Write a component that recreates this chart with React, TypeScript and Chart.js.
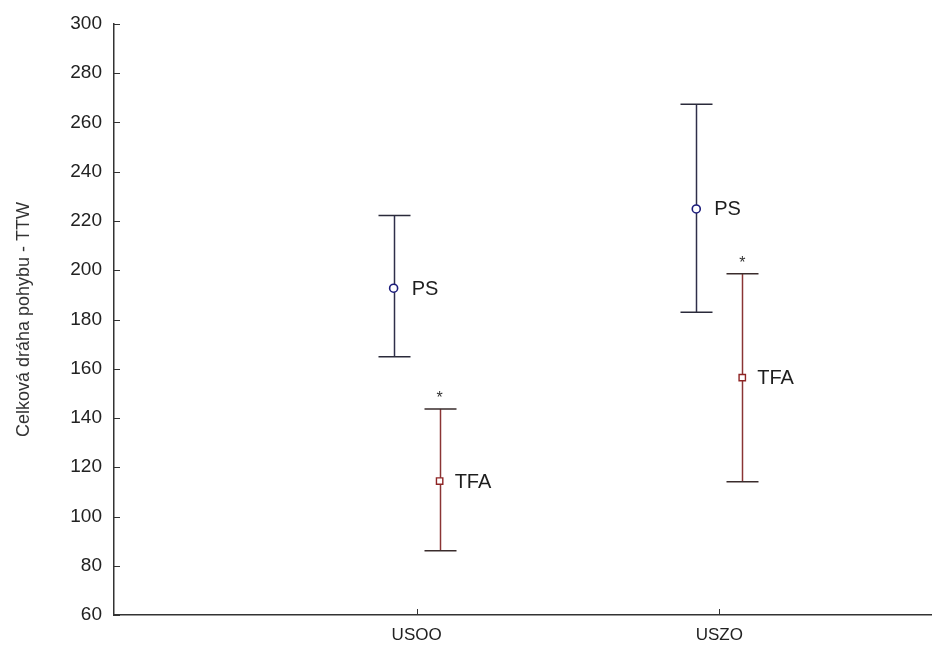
import React, { useEffect, useRef } from "react";
import { Chart, registerables } from "chart.js";

Chart.register(...registerables);

// ---- Data ----
const categories = ["USOO", "USZO"];
const yTickValues = [60, 80, 100, 120, 140, 160, 180, 200, 220, 240, 260, 280, 300];
const yTitle = "Celková dráha pohybu - TTW";

const psMean = [192.7, 224.9];
const psUpper = [222.2, 267.4];
const psLower = [164.9, 182.9];

const tfaMean = [114.4, 156.4];
const tfaUpper = [143.7, 198.6];
const tfaLower = [86.1, 114.1];
const tfaMarks = ["*", "*"];

const seriesNames = ["PS", "TFA"];

const OFFSET = 0.076;
const FONT = "Arial, 'Liberation Sans', sans-serif";

const errorBarPlugin = {
  id: "errorBars",
  beforeDatasetsDraw(chart: any) {
    const ctx = chart.ctx;
    const y = chart.scales.y;
    chart.data.datasets.forEach((ds: any, di: number) => {
      const meta = chart.getDatasetMeta(di);
      meta.data.forEach((pt: any, i: number) => {
        const px = Math.round(pt.x) + 0.5;
        const yHi = y.getPixelForValue(ds.errHigh[i]);
        const yLo = y.getPixelForValue(ds.errLow[i]);
        ctx.save();
        ctx.lineWidth = 1.5;
        ctx.strokeStyle = ds.barColor;
        ctx.beginPath();
        ctx.moveTo(px, yHi);
        ctx.lineTo(px, yLo);
        ctx.stroke();
        ctx.strokeStyle = ds.capColor;
        ctx.beginPath();
        ctx.moveTo(px - 16, yHi);
        ctx.lineTo(px + 16, yHi);
        ctx.moveTo(px - 16, yLo);
        ctx.lineTo(px + 16, yLo);
        ctx.stroke();
        ctx.restore();
      });
    });
  },
  afterDatasetsDraw(chart: any) {
    const ctx = chart.ctx;
    const y = chart.scales.y;
    chart.data.datasets.forEach((ds: any, di: number) => {
      const meta = chart.getDatasetMeta(di);
      meta.data.forEach((pt: any, i: number) => {
        ctx.save();
        ctx.fillStyle = "#1e1e1e";
        ctx.font = `20px ${FONT}`;
        ctx.textAlign = "left";
        ctx.textBaseline = "middle";
        ctx.fillText(ds.label, pt.x + ds.labelGap, pt.y + 1);
        if (ds.marks && ds.marks[i]) {
          ctx.font = `16px ${FONT}`;
          ctx.textAlign = "center";
          ctx.fillStyle = "#333";
          ctx.fillText(ds.marks[i], pt.x, y.getPixelForValue(ds.errHigh[i]) - 10);
        }
        ctx.restore();
      });
    });
  },
  afterDraw(chart: any) {
    const ctx = chart.ctx;
    const { left, bottom } = chart.chartArea;
    const ys = chart.scales.y;
    const xs = chart.scales.x;
    ctx.save();
    ctx.strokeStyle = "#333";
    ctx.lineWidth = 1;
    ctx.beginPath();
    yTickValues.forEach((v) => {
      const py = Math.round(ys.getPixelForValue(v)) + 0.5;
      ctx.moveTo(left, py);
      ctx.lineTo(left + 6, py);
    });
    categories.forEach((_, i) => {
      const px = Math.round(xs.getPixelForValue(i + 1)) + 0.5;
      ctx.moveTo(px, bottom);
      ctx.lineTo(px, bottom - 6);
    });
    ctx.stroke();
    ctx.restore();
  },
};

const bgPlugin = {
  id: "bg",
  beforeDraw(chart: any) {
    const ctx = chart.ctx;
    ctx.save();
    ctx.fillStyle = "#ffffff";
    ctx.fillRect(0, 0, chart.width, chart.height);
    ctx.restore();
  },
};

const CANVAS_W = 937;
const CANVAS_H = 646;

export default function App() {
  const ref = useRef<HTMLCanvasElement | null>(null);

  useEffect(() => {
    if (!ref.current) return;
    const chart = new Chart(ref.current, {
      type: "scatter",
      data: {
        datasets: [
          {
            label: seriesNames[0],
            data: psMean.map((v, i) => ({ x: i + 1 - OFFSET, y: v })),
            errHigh: psUpper,
            errLow: psLower,
            barColor: "#2e2e4a",
            capColor: "#2a2a3a",
            labelGap: 18,
            pointStyle: "circle",
            pointRadius: 4,
            pointBorderWidth: 1.6,
            pointBorderColor: "#1c1c7a",
            pointBackgroundColor: "#ffffff",
          } as any,
          {
            label: seriesNames[1],
            data: tfaMean.map((v, i) => ({ x: i + 1 + OFFSET, y: v })),
            errHigh: tfaUpper,
            errLow: tfaLower,
            marks: tfaMarks,
            barColor: "#8a3434",
            capColor: "#3a2c2c",
            labelGap: 15,
            pointStyle: "rect",
            pointRadius: 4.5,
            pointBorderWidth: 1.4,
            pointBorderColor: "#8e2424",
            pointBackgroundColor: "#ffffff",
          } as any,
        ],
      },
      options: {
        animation: false,
        responsive: false,
        layout: { padding: { top: 24, right: 0, left: 0, bottom: 0 } },
        plugins: {
          legend: { display: false },
          tooltip: { enabled: false },
        },
        scales: {
          x: {
            type: "linear",
            min: 0,
            max: 2.7,
            afterBuildTicks: (scale: any) => {
              scale.ticks = categories.map((_, i) => ({ value: i + 1 }));
            },
            afterFit: (scale: any) => {
              scale.height = 31;
            },
            grid: { display: false, drawTicks: false },
            border: { display: true, color: "#333", width: 1.5 },
            ticks: {
              padding: 10,
              color: "#222",
              font: { family: FONT, size: 17 },
              callback: (v: any) => categories[Math.round(v) - 1] ?? "",
              autoSkip: false,
              maxRotation: 0,
            },
          },
          y: {
            type: "linear",
            min: 60,
            max: 300,
            afterBuildTicks: (scale: any) => {
              scale.ticks = yTickValues.map((v) => ({ value: v }));
            },
            afterFit: (scale: any) => {
              scale.width = 114;
            },
            grid: { display: false, drawTicks: false },
            border: { display: true, color: "#333", width: 1.5 },
            ticks: {
              padding: 12,
              color: "#222",
              font: { family: FONT, size: 19 },
            },
            title: {
              display: true,
              text: yTitle,
              color: "#333",
              font: { family: FONT, size: 18 },
              padding: { top: 13, bottom: 0 },
            },
          },
        },
      } as any,
      plugins: [bgPlugin, errorBarPlugin],
    });
    return () => chart.destroy();
  }, []);

  return (
    <div style={{ position: "fixed", left: 0, top: 0, width: CANVAS_W, height: CANVAS_H, background: "#fff" }}>
      <canvas ref={ref} width={CANVAS_W} height={CANVAS_H} style={{ width: CANVAS_W, height: CANVAS_H, display: "block" }} />
    </div>
  );
}
